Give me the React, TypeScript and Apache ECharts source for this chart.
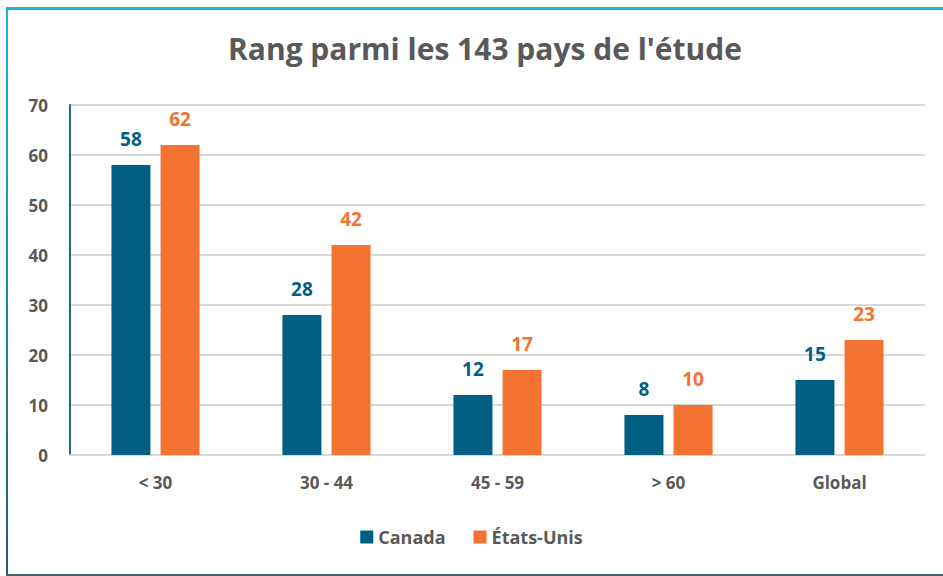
import React, { useEffect, useRef } from "react";
import * as echarts from "echarts";

const categories = ["< 30", "30 - 44", "45 - 59", "> 60", "Global"];
const canada = [58, 28, 12, 8, 15];
const etatsUnis = [62, 42, 17, 10, 23];
const seriesNames = ["Canada", "États-Unis"];
const titleText = "Rang parmi les 143 pays de l'étude";

const BLUE = "#005f83";
const ORANGE = "#f37332";
const GRAY = "#595959";
const FONT = "'Open Sans', 'Noto Sans', sans-serif";

export default function App() {
  const ref = useRef<HTMLDivElement>(null);
  useEffect(() => {
    if (!ref.current) return;
    const chart = echarts.init(ref.current, null, { renderer: "svg" });
    const label = (color: string) => ({
      show: true,
      position: "top" as const,
      distance: 17,
      color,
      fontFamily: FONT,
      fontWeight: "bold" as const,
      fontSize: 19,
    });
    chart.setOption({
      animation: false,
      backgroundColor: "#ffffff",
      title: {
        text: titleText,
        left: 480,
        textAlign: "center",
        top: 28,
        textStyle: { color: GRAY, fontFamily: FONT, fontWeight: "bold", fontSize: 30 },
      },
      legend: {
        data: seriesNames,
        left: "center",
        top: 523,
        itemWidth: 13,
        itemHeight: 13,
        itemGap: 28,
        icon: "rect",
        textStyle: { color: GRAY, fontFamily: FONT, fontWeight: "bold", fontSize: 18 },
      },
      grid: { left: 70, right: 18, top: 105, bottom: 121 },
      xAxis: {
        type: "category",
        data: categories,
        axisLine: { lineStyle: { color: "#d9d9d9", width: 2 } },
        axisTick: { show: false },
        axisLabel: { color: GRAY, fontFamily: FONT, fontWeight: "bold", fontSize: 17, margin: 19 },
      },
      yAxis: {
        type: "value",
        min: 0,
        max: 70,
        interval: 10,
        axisLine: { show: true, lineStyle: { color: "#1f6b8c", width: 2 } },
        axisTick: { show: false },
        splitLine: { lineStyle: { color: "#d9d9d9", width: 2 } },
        axisLabel: { color: GRAY, fontFamily: FONT, fontWeight: "bold", fontSize: 17, margin: 22 },
      },
      series: [
        {
          name: seriesNames[0],
          type: "bar",
          data: canada,
          barWidth: 39,
          barGap: "26%",
          itemStyle: { color: BLUE },
          label: label(BLUE),
        },
        {
          name: seriesNames[1],
          type: "bar",
          data: etatsUnis,
          barWidth: 39,
          itemStyle: { color: ORANGE },
          label: label(ORANGE),
        },
      ],
      graphic: [
        { type: "rect", shape: { x: 6, y: 7, width: 937, height: 3 }, style: { fill: "#1ab4e2" } },
        {
          type: "rect",
          shape: { x: 6, y: 7, width: 2, height: 569 },
          style: {
            fill: new echarts.graphic.LinearGradient(0, 0, 0, 1, [
              { offset: 0, color: "#1ab4e2" },
              { offset: 1, color: "#2a5a6c" },
            ]),
          },
        },
        { type: "rect", shape: { x: 6, y: 574, width: 937, height: 2 }, style: { fill: "#3f6470" } },
      ],
    });
    return () => chart.dispose();
  }, []);
  return <div ref={ref} style={{ position: "fixed", left: 0, top: 0, width: 943, height: 576 }} />;
}
